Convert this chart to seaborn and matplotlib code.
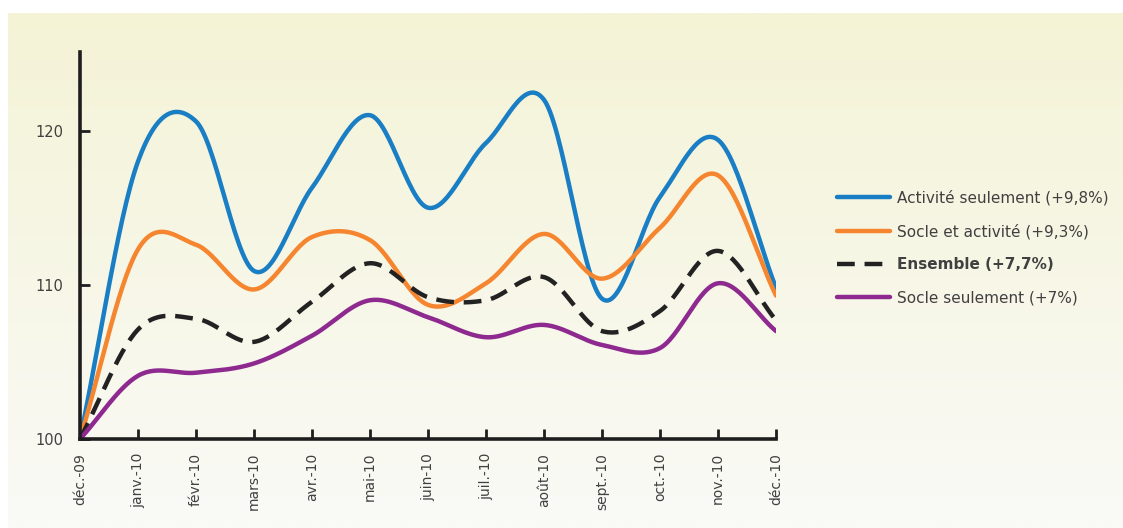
import numpy as np
import pandas as pd
import matplotlib
matplotlib.use("Agg")
import matplotlib.pyplot as plt
from matplotlib.lines import Line2D
import seaborn as sns

# Month labels and series values (index, déc.-09 = 100)
months = ["déc.-09", "janv.-10", "févr.-10", "mars-10", "avr.-10", "mai-10", "juin-10",
          "juil.-10", "août-10", "sept.-10", "oct.-10", "nov.-10", "déc.-10"]
activite = [100, 118.0, 120.6, 110.9, 116.3, 121.0, 115.0, 119.2, 122.0, 109.1, 115.7, 119.4, 109.8]
socle_act = [100, 112.3, 112.6, 109.7, 113.1, 112.9, 108.7, 110.1, 113.3, 110.4, 113.7, 117.1, 109.3]
ensemble = [100, 107.1, 107.8, 106.3, 108.9, 111.4, 109.2, 109.0, 110.5, 107.0, 108.3, 112.2, 107.7]
socle = [100, 104.1, 104.3, 104.9, 106.7, 109.0, 107.9, 106.6, 107.4, 106.1, 105.9, 110.1, 107.0]

labels = ["Activité seulement (+9,8%)", "Socle et activité (+9,3%)",
          "Ensemble (+7,7%)", "Socle seulement (+7%)"]
series = [activite, socle_act, ensemble, socle]
colors = ["#1a7ec4", "#f5862f", "#222222", "#8e2a8f"]


def smooth(y, n=30):
    # Catmull-Rom smoothing, like a spreadsheet "smoothed line"
    y = np.asarray(y, float)
    p = np.concatenate([[2 * y[0] - y[1]], y, [2 * y[-1] - y[-2]]])
    xs, ys = [], []
    for i in range(len(y) - 1):
        p0, p1, p2, p3 = p[i], p[i + 1], p[i + 2], p[i + 3]
        t = np.linspace(0, 1, n, endpoint=False)
        v = 0.5 * ((2 * p1) + (-p0 + p2) * t + (2 * p0 - 5 * p1 + 4 * p2 - p3) * t ** 2
                   + (-p0 + 3 * p1 - 3 * p2 + p3) * t ** 3)
        xs.append(i + t)
        ys.append(v)
    xs.append([len(y) - 1])
    ys.append([y[-1]])
    return np.concatenate(xs), np.concatenate(ys)


rows = []
for lab, s in zip(labels, series):
    xs, ys = smooth(s)
    rows.append(pd.DataFrame({"x": xs, "y": ys, "serie": lab}))
df = pd.concat(rows)

sns.set_style("white")
plt.rcParams["font.family"] = ["DejaVu Sans"]

fig = plt.figure(figsize=(11.23, 5.28), dpi=100)

# gradient background panel
bg = fig.add_axes([8 / 1123, 0, 1 - 8 / 1123, (528 - 13) / 528], zorder=-10)
top = np.array([244, 243, 214]) / 255
bot = np.array([250, 250, 247]) / 255
grad = np.linspace(0, 1, 256)[:, None]
img = top[None, None, :] * (1 - grad[:, :, None]) + bot[None, None, :] * grad[:, :, None]
bg.imshow(img, aspect="auto", extent=[0, 1, 0, 1])
bg.axis("off")

ax = fig.add_axes([80 / 1123, (528 - 439) / 528, (776 - 80) / 1123, (439 - 52) / 528])
ax.patch.set_alpha(0)

sns.lineplot(data=df, x="x", y="y", hue="serie", style="serie",
             palette=dict(zip(labels, colors)),
             dashes={labels[0]: "", labels[1]: "", labels[2]: (4, 2.2), labels[3]: ""},
             linewidth=3.2, ax=ax, sort=False, legend=False)

ax.set_xlim(0, 12)
ax.set_ylim(100, 125.1)
ax.set_xticks(range(len(months)))
ax.set_xticklabels(months, rotation=90, fontsize=10, color="#404040")
ax.set_yticks([100, 110, 120])
ax.set_yticklabels(["100", "110", "120"], fontsize=10.5, color="#404040")
ax.set_xlabel("")
ax.set_ylabel("")
for side in ["top", "right"]:
    ax.spines[side].set_visible(False)
for side in ["left", "bottom"]:
    ax.spines[side].set_linewidth(2.6)
    ax.spines[side].set_color("#1e1e1e")
ax.tick_params(axis="x", bottom=True, direction="in", length=7, width=2, color="#1e1e1e", pad=10)
ax.tick_params(axis="y", left=True, direction="in", length=7, width=2, color="#1e1e1e", pad=12)

# legend
handles = []
for lab, c in zip(labels, colors):
    ls = (0, (4, 2.2)) if lab.startswith("Ensemble") else "-"
    handles.append(Line2D([0], [0], color=c, lw=3.2, linestyle=ls, solid_capstyle="round"))
leg = fig.legend(handles, labels, loc="upper left", bbox_to_anchor=(823 / 1123, 1 - 176 / 528),
                 frameon=False, fontsize=11, handlelength=3.5, labelspacing=1.2,
                 handletextpad=0.45)
for t in leg.get_texts():
    t.set_color("#404040")
    if t.get_text().startswith("Ensemble"):
        t.set_fontweight("bold")

fig.savefig("out.png", dpi=100)
